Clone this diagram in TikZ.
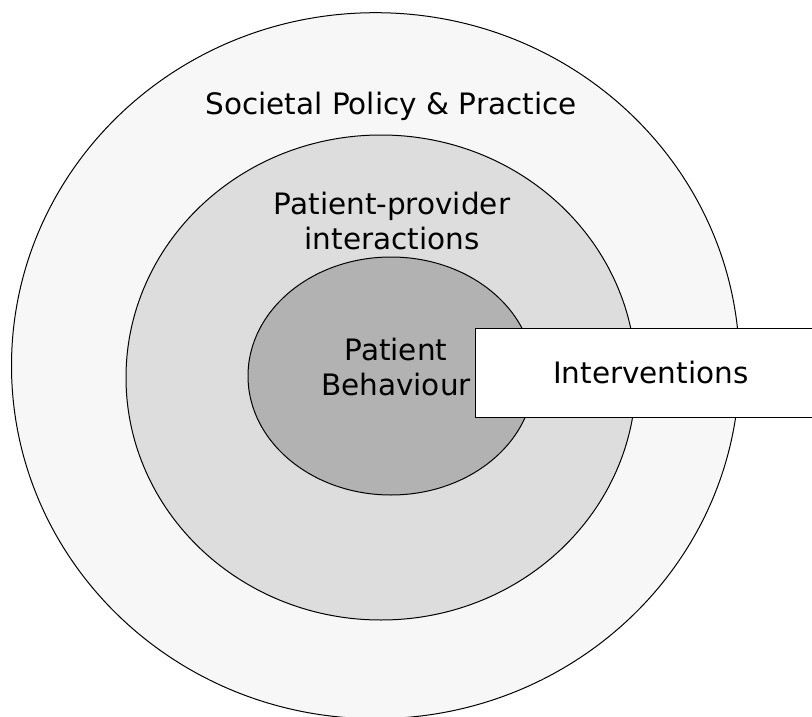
\documentclass[tikz,border=0pt]{standalone}
\usepackage{fontspec}
\setmainfont{DejaVu Sans}
\usetikzlibrary{shapes.geometric}
\definecolor{outerc}{HTML}{F7F7F7}
\definecolor{midc}{HTML}{DDDDDD}
\definecolor{innerc}{HTML}{B2B2B2}
\tikzset{
  ring/.style={ellipse, draw=black, line width=1pt, inner sep=0pt},
  lbl/.style={font=\fontsize{29.5}{34.8}\selectfont, align=center, inner sep=0pt, anchor=base},
  ibox/.style={draw=black, fill=white, line width=1pt, inner sep=0pt}
}
\begin{document}
\begin{tikzpicture}[x=1pt,y=-1pt]
\useasboundingbox (0,0) rectangle (812,717);
\node[ring, fill=outerc, minimum width=728pt, minimum height=706pt] (outer) at (375.5,365.7) {};
\node[ring, fill=midc, minimum width=510pt, minimum height=485pt] (mid) at (381,377.5) {};
\node[ring, fill=innerc, minimum width=286pt, minimum height=238pt] (inner) at (391,376) {};
\node[lbl] (tsoc) at (391,114.3) {Societal Policy \& Practice};
\node[lbl] (tppi) at (392,249) {Patient-provider\\interactions};
\node[lbl] (tpb) at (396,395) {Patient\\Behaviour};
\node[ibox, minimum width=350pt, minimum height=89.6pt, anchor=north west] (box) at (475,327.7) {};
\node[lbl] (tint) at (650.8,383.3) {Interventions};
\end{tikzpicture}
\end{document}
